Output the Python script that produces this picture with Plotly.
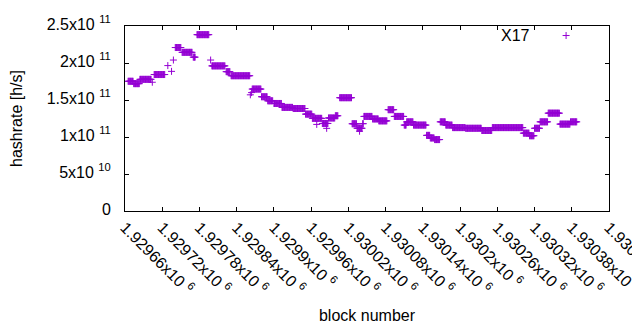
import plotly.graph_objects as go

# Plateaus: first block, last block, hashrate [h/s]
seg_first_block = [1929665, 1929674, 1929684, 1929704, 1929707, 1929729, 1929735, 1929738,
                   1929741, 1929752, 1929770, 1929776, 1929798, 1929800, 1929823, 1929831,
                   1929862, 1929864, 1929865, 1929880, 1929890, 1929900, 1929913, 1929931,
                   1929951, 1929962, 1929969, 1929978, 1929985, 1929988, 1929999, 1930006,
                   1930026, 1930034, 1930038, 1930043, 1930045, 1930059, 1930069, 1930084,
                   1930094, 1930110, 1930114, 1930125, 1930146, 1930152, 1930159, 1930168,
                   1930177, 1930188, 1930209, 1930235, 1930252, 1930302, 1930312, 1930320,
                   1930329, 1930342, 1930361, 1930378]
seg_last_block = [1929673, 1929683, 1929702, 1929704, 1929724, 1929729, 1929735, 1929738,
                  1929750, 1929768, 1929773, 1929795, 1929798, 1929821, 1929829, 1929861,
                  1929862, 1929864, 1929879, 1929889, 1929898, 1929912, 1929930, 1929950,
                  1929961, 1929977, 1929969, 1929987, 1929985, 1929998, 1930003, 1930025,
                  1930033, 1930042, 1930038, 1930044, 1930058, 1930068, 1930082, 1930093,
                  1930109, 1930113, 1930124, 1930145, 1930151, 1930158, 1930167, 1930176,
                  1930187, 1930208, 1930234, 1930251, 1930301, 1930311, 1930319, 1930328,
                  1930341, 1930360, 1930377, 1930388]
seg_hashrate = [1.753e11, 1.721e11, 1.779e11, 1.74e11, 1.844e11, 1.965e11, 1.887e11, 2.04e11,
                2.209e11, 2.144e11, 2.079e11, 2.383e11, 2.04e11, 1.961e11, 1.883e11, 1.828e11,
                1.57e11, 1.60e11, 1.648e11, 1.544e11, 1.489e11, 1.453e11, 1.40e11, 1.385e11,
                1.309e11, 1.252e11, 1.17e11, 1.183e11, 1.117e11, 1.257e11, 1.287e11, 1.531e11,
                1.179e11, 1.118e11, 1.078e11, 1.18e11, 1.278e11, 1.244e11, 1.218e11, 1.369e11,
                1.278e11, 1.161e11, 1.205e11, 1.161e11, 1.022e11, 0.987e11, 0.965e11, 1.205e11,
                1.161e11, 1.127e11, 1.118e11, 1.088e11, 1.127e11, 1.052e11, 1.017e11, 1.118e11,
                1.205e11, 1.322e11, 1.174e11, 1.205e11]

x_tick_vals = [1929660, 1929720, 1929780, 1929840, 1929900, 1929960, 1930020,
               1930080, 1930140, 1930200, 1930260, 1930320, 1930380, 1930440]
x_tick_text = ["1.92966", "1.92972", "1.92978", "1.92984", "1.9299", "1.92996", "1.93002",
               "1.93008", "1.93014", "1.9302", "1.93026", "1.93032", "1.93038", "1.93044"]
y_tick_vals = [0, 5e10, 1e11, 1.5e11, 2e11, 2.5e11]
y_tick_text = ["0", "5x10&nbsp;<sup>10</sup>", "1x10&nbsp;<sup>11</sup>",
               "1.5x10&nbsp;<sup>11</sup>", "2x10&nbsp;<sup>11</sup>", "2.5x10&nbsp;<sup>11</sup>"]

blocks, rates = [], []
for a, b, v in zip(seg_first_block, seg_last_block, seg_hashrate):
    for blk in range(a, b + 1):
        blocks.append(blk)
        rates.append(v)

PURPLE = "#9400D3"
FONT = dict(family="Liberation Sans, Arial, sans-serif", size=16, color="black")

fig = go.Figure()
fig.add_trace(go.Scatter(
    x=blocks, y=rates, mode="markers", name="X17", showlegend=False,
    marker=dict(symbol="cross-thin", size=5, color=PURPLE,
                line=dict(color=PURPLE, width=1)),
))
fig.add_trace(go.Scatter(
    x=[None], y=[None], mode="markers", name="", showlegend=True,
    marker=dict(symbol="cross-thin", size=5, color=PURPLE,
                line=dict(color=PURPLE, width=1)),
))

axis_common = dict(showline=True, linecolor="black", linewidth=1, mirror="allticks",
                   ticks="inside", ticklen=4, tickcolor="black", showgrid=False,
                   zeroline=False, tickfont=FONT, automargin=False)

# The page body adds an 8px margin, so the figure is 8px smaller than the window.
fig.update_layout(
    width=632, height=322,
    margin=dict(l=117, r=31, t=11, b=119),
    paper_bgcolor="white", plot_bgcolor="white",
    font=FONT,
    xaxis=dict(range=[1929660, 1930440], tickvals=x_tick_vals,
               ticktext=[t + "x10&nbsp;<sup>6</sup>" for t in x_tick_text],
               tickangle=45, ticklabeloverflow="allow",
               title=dict(text="block number", font=FONT, standoff=13), **axis_common),
    yaxis=dict(range=[0, 2.5e11], tickvals=y_tick_vals, ticktext=y_tick_text,
               ticklabelstandoff=10, ticklabelshift=-2,
               title=dict(text="hashrate [h/s]", font=FONT, standoff=21), **axis_common),
    legend=dict(x=0.87, y=0.948, xanchor="left", yanchor="middle",
                bgcolor="rgba(0,0,0,0)", font=FONT),
    annotations=[dict(text="X17", xref="paper", yref="paper", x=0.841, y=0.947,
                      xanchor="right", yanchor="middle", showarrow=False, font=FONT)],
)

fig.write_html("out.html")
